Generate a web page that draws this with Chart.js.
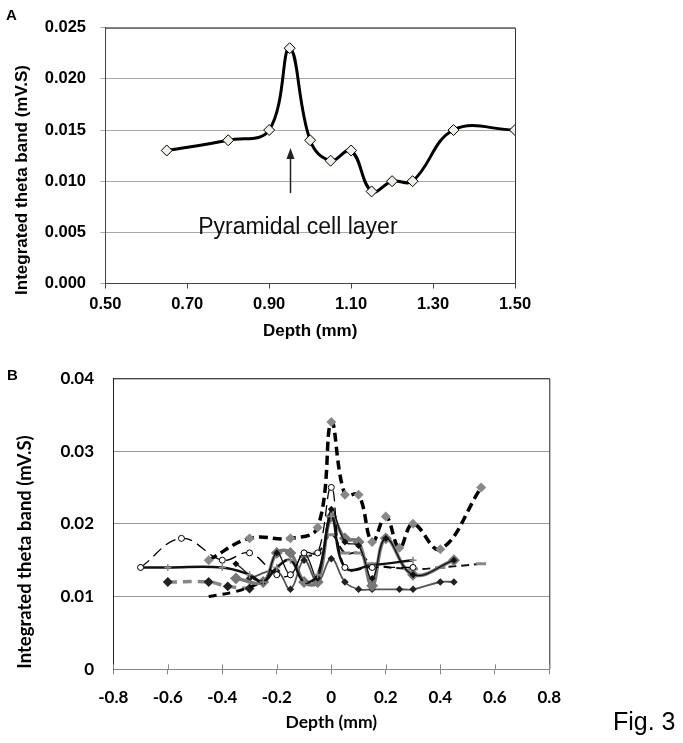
<!DOCTYPE html>
<html>
<head>
<meta charset="utf-8">
<script src="https://cdn.jsdelivr.net/npm/chart.js@4.4.1/dist/chart.umd.min.js"></script>
<style>
  body { margin: 0; background: #fff; }
  #page { position: relative; width: 683px; height: 743px; overflow: hidden; }
  canvas { position: absolute; left: 0; }
  .lbl { position: absolute; font-family: "Liberation Sans", Arial, sans-serif; color: #000; white-space: nowrap; }
</style>
</head>
<body>
<div id="page">
  <canvas id="chartA" width="683" height="345" style="top:0"></canvas>
  <canvas id="chartB" width="683" height="398" style="top:345px"></canvas>
  <div class="lbl" style="left:6px;top:7px;font-size:15px;line-height:15px;font-weight:bold">A</div>
  <div class="lbl" style="left:7px;top:367px;font-size:15px;line-height:15px;font-weight:bold">B</div>
  <div class="lbl" style="left:613px;top:709px;font-size:25px;line-height:25px">Fig. 3</div>
</div>
<script>
// Panel A: single depth profile
const depthA = [0.65, 0.80, 0.90, 0.95, 1.00, 1.05, 1.10, 1.15, 1.20, 1.25, 1.35, 1.50];
const thetaA = [0.013, 0.014, 0.015, 0.023, 0.014, 0.012, 0.013, 0.009, 0.010, 0.010, 0.015, 0.015];

// Panel B: profiles aligned on the pyramidal layer (depth relative to peak)
const depthB1 = [-0.45, -0.3, -0.15, -0.05, 0, 0.05, 0.1, 0.15, 0.2, 0.25, 0.3, 0.4, 0.55];
const thetaB1 = [0.015, 0.018, 0.018, 0.0195, 0.034, 0.024, 0.024, 0.0175, 0.021, 0.0167, 0.020, 0.0165, 0.025];
const depthB2 = [-0.7, -0.55, -0.4, -0.3, -0.2, -0.15, -0.1, -0.05, 0, 0.05, 0.15, 0.3];
const thetaB2 = [0.014, 0.018, 0.015, 0.016, 0.013, 0.013, 0.016, 0.016, 0.025, 0.014, 0.014, 0.014];
const depthB3 = [-0.7, -0.6, -0.4, -0.3, -0.25, -0.2, -0.15, -0.1, -0.05, 0, 0.05, 0.15, 0.3];
const thetaB3 = [0.014, 0.014, 0.014, 0.013, 0.012, 0.014, 0.015, 0.012, 0.013, 0.021, 0.014, 0.0143, 0.015];
const depthB4 = [-0.35, -0.25, -0.2, -0.15, -0.1, -0.05, 0, 0.05, 0.1, 0.15, 0.2, 0.3, 0.45];
const thetaB4 = [0.0145, 0.012, 0.016, 0.013, 0.016, 0.0125, 0.022, 0.0175, 0.017, 0.0125, 0.018, 0.013, 0.015];
const depthB5 = [-0.35, -0.25, -0.2, -0.15, -0.1, -0.05, 0, 0.05, 0.1, 0.15, 0.2, 0.3, 0.45];
const thetaB5 = [0.0125, 0.012, 0.016, 0.016, 0.012, 0.012, 0.021, 0.018, 0.0175, 0.0115, 0.018, 0.013, 0.015];
const depthB6 = [-0.3, -0.2, -0.15, -0.1, -0.05, 0, 0.05, 0.1, 0.15, 0.25, 0.3, 0.4, 0.45];
const thetaB6 = [0.0125, 0.0135, 0.011, 0.015, 0.012, 0.0152, 0.012, 0.011, 0.011, 0.011, 0.011, 0.012, 0.012];
const depthB7 = [-0.45, -0.35, -0.25];
const thetaB7 = [0.010, 0.0107, 0.012];
const depthB8 = [-0.6, -0.45, -0.38, -0.3];
const thetaB8 = [0.012, 0.012, 0.0114, 0.0111];
const depthB9 = [-0.1, -0.05, 0, 0.05, 0.1, 0.15, 0.3, 0.4, 0.55];
const thetaB9 = [0.0155, 0.016, 0.0185, 0.016, 0.016, 0.0145, 0.0138, 0.014, 0.0145];

const pts = (xs, ys) => xs.map((x, i) => ({ x: x, y: ys[i] }));

// box round the plot area (top + right edges) and optional inner tick marks
const framePlugin = {
    id: 'frame',
    afterDatasetsDraw(chart, args, opts) {
        const { ctx, chartArea: a } = chart;
        ctx.save();
        ctx.lineWidth = 1;
        ctx.strokeStyle = opts.color;
        ctx.beginPath();
        ctx.moveTo(a.left, a.top + 0.5);
        ctx.lineTo(a.right + 0.5, a.top + 0.5);
        ctx.lineTo(a.right + 0.5, a.bottom);
        ctx.stroke();
        if (opts.innerTicks) {
            const xs = chart.scales.x;
            ctx.strokeStyle = opts.tickColor;
            ctx.beginPath();
            xs.ticks.forEach(t => {
                const px = Math.round(xs.getPixelForValue(t.value)) + 0.5;
                ctx.moveTo(px, a.bottom);
                ctx.lineTo(px, a.bottom - opts.innerTicks);
            });
            ctx.stroke();
        }
        ctx.restore();
    }
};

// rotated y title placed freely (the original is not centred on the plot)
const sideTitle = {
    id: 'sideTitle',
    afterDraw(chart, args, opts) {
        const ctx = chart.ctx;
        ctx.save();
        ctx.translate(opts.x, opts.y);
        ctx.rotate(-Math.PI / 2);
        ctx.font = opts.font;
        ctx.fillStyle = '#000';
        ctx.textAlign = 'center';
        ctx.textBaseline = 'middle';
        ctx.fillText(opts.text, 0, 0);
        ctx.restore();
    }
};

// arrow + label for the pyramidal layer in panel A
const layerNote = {
    id: 'layerNote',
    afterDatasetsDraw(chart, args, opts) {
        const { ctx, scales: { x, y } } = chart;
        const ax = Math.round(x.getPixelForValue(opts.arrowX)) + 0.5;
        const y0 = y.getPixelForValue(opts.arrowFrom);
        const y1 = y.getPixelForValue(opts.arrowTo);
        ctx.save();
        ctx.strokeStyle = '#222';
        ctx.fillStyle = '#222';
        ctx.lineWidth = 1.5;
        ctx.beginPath();
        ctx.moveTo(ax, y0);
        ctx.lineTo(ax, y1 + 8);
        ctx.stroke();
        ctx.beginPath();
        ctx.moveTo(ax, y1);
        ctx.lineTo(ax - 4, y1 + 11);
        ctx.lineTo(ax + 4, y1 + 11);
        ctx.closePath();
        ctx.fill();
        ctx.fillStyle = '#111';
        ctx.font = '23px "Liberation Sans", Arial, sans-serif';
        ctx.textAlign = 'center';
        ctx.textBaseline = 'middle';
        ctx.fillText(opts.text, x.getPixelForValue(opts.textX), y.getPixelForValue(opts.textY));
        ctx.restore();
    }
};

const fontA = { family: '"Liberation Sans", Arial, sans-serif', weight: 'bold', size: 16.5 };
const fontB = { family: 'Lato, "Open Sans", sans-serif', weight: 'bold', size: 17 };

new Chart(document.getElementById('chartA'), {
    type: 'scatter',
    data: {
        datasets: [{
            data: pts(depthA, thetaA),
            showLine: true,
            tension: 0.4,
            borderColor: '#000',
            borderWidth: 3,
            pointStyle: 'rectRot',
            pointRadius: 5.5,
            pointBackgroundColor: '#efefe7',
            pointBorderColor: '#000',
            pointBorderWidth: 1
        }]
    },
    options: {
        responsive: false,
        animation: false,
        events: [],
        layout: { padding: { left: 0, top: 27.7, right: 168, bottom: 3.5 } },
        scales: {
            x: {
                type: 'linear',
                min: 0.5, max: 1.5,
                afterFit: s => { s.height = 58; },
                ticks: { stepSize: 0.2, color: '#000', font: fontA, padding: 5.6, callback: v => v.toFixed(2) },
                grid: { drawOnChartArea: false, tickLength: 5, tickColor: '#444' },
                border: { color: '#444' },
                title: { display: true, text: 'Depth (mm)', color: '#000', font: { ...fontA, size: 17 }, padding: 0 }
            },
            y: {
                min: 0, max: 0.025,
                afterFit: s => { s.width = 105.3; },
                ticks: { stepSize: 0.005, color: '#000', font: fontA, padding: 14.3, callback: v => v.toFixed(3) },
                grid: { color: '#aaa', tickLength: 5, tickColor: '#aaa' },
                border: { color: '#444' }
            }
        },
        plugins: {
            legend: { display: false },
            tooltip: { enabled: false },
            frame: { color: '#333' },
            sideTitle: { x: 22, y: 180, text: 'Integrated theta band (mV.S)', font: 'bold 17px "Liberation Sans", Arial, sans-serif' },
            layerNote: { arrowX: 0.95, arrowFrom: 0.00884, arrowTo: 0.01325, text: 'Pyramidal cell layer', textX: 0.97, textY: 0.0055 }
        }
    },
    plugins: [framePlugin, sideTitle, layerNote]
});

const lineB = (xs, ys, style) => Object.assign({ data: pts(xs, ys), showLine: true, tension: 0.4 }, style);

new Chart(document.getElementById('chartB'), {
    type: 'scatter',
    data: {
        datasets: [
            lineB(depthB1, thetaB1, { borderColor: '#000', borderWidth: 3.5, borderDash: [9, 5], pointStyle: 'rectRot', pointRadius: 2.5, pointBackgroundColor: '#888', pointBorderColor: '#888' }),
            lineB(depthB2, thetaB2, { borderColor: '#000', borderWidth: 1.3, borderDash: [11, 6], pointStyle: 'circle', pointRadius: 3, pointBackgroundColor: '#fff', pointBorderColor: '#000', pointBorderWidth: 1 }),
            lineB(depthB3, thetaB3, { borderColor: '#111', borderWidth: 2.5, pointStyle: 'cross', pointRadius: 3.5, pointBorderColor: '#888', pointBorderWidth: 1.5 }),
            lineB(depthB4, thetaB4, { borderColor: '#111', borderWidth: 1.3, pointStyle: 'rectRot', pointRadius: 2.5, pointBackgroundColor: '#111', pointBorderColor: '#111' }),
            lineB(depthB5, thetaB5, { borderColor: '#777', borderWidth: 3.5, pointStyle: 'rectRot', pointRadius: 3.5, pointBackgroundColor: '#777', pointBorderColor: '#777' }),
            lineB(depthB6, thetaB6, { borderColor: '#555', borderWidth: 1.8, pointStyle: 'rectRot', pointRadius: 2.5, pointBackgroundColor: '#222', pointBorderColor: '#222' }),
            lineB(depthB7, thetaB7, { borderColor: '#000', borderWidth: 3, borderDash: [8, 6], pointRadius: 0 }),
            lineB(depthB8, thetaB8, { borderColor: '#888', borderWidth: 3.5, borderDash: [9, 6], pointStyle: 'rectRot', pointRadius: 2.5, pointBackgroundColor: '#222', pointBorderColor: '#222' }),
            lineB(depthB9, thetaB9, { borderColor: '#111', borderWidth: 2, borderDash: [8, 5], pointStyle: 'line', pointRadius: 5, pointBorderColor: '#888', pointBorderWidth: 3 })
        ]
    },
    options: {
        responsive: false,
        animation: false,
        events: [],
        layout: { padding: { left: 0, top: 33.3, right: 133.7, bottom: 9.7 } },
        scales: {
            x: {
                type: 'linear',
                min: -0.8, max: 0.8,
                afterFit: s => { s.height = 64; },
                ticks: { stepSize: 0.2, color: '#000', font: fontB, padding: 13.2, callback: v => String(+v.toFixed(1)) },
                grid: { drawOnChartArea: false, tickLength: 5, tickColor: '#888' },
                border: { color: '#888' },
                title: { display: true, text: 'Depth (mm)', color: '#000', font: { ...fontB, size: 17.5 }, padding: 0 }
            },
            y: {
                min: 0, max: 0.04,
                afterFit: s => { s.width = 113.3; },
                ticks: { stepSize: 0.01, color: '#000', font: fontB, padding: 19.3, callback: v => String(+v.toFixed(2)) },
                grid: { color: '#999', drawTicks: false },
                border: { color: '#222' }
            }
        },
        plugins: {
            legend: { display: false },
            tooltip: { enabled: false },
            frame: { color: '#222', innerTicks: 5, tickColor: '#888' },
            sideTitle: { x: 25, y: 207, text: 'Integrated theta band (mV.S)', font: 'bold 18.5px Lato, "Open Sans", sans-serif' }
        }
    },
    plugins: [framePlugin, sideTitle]
});
</script>
</body>
</html>
